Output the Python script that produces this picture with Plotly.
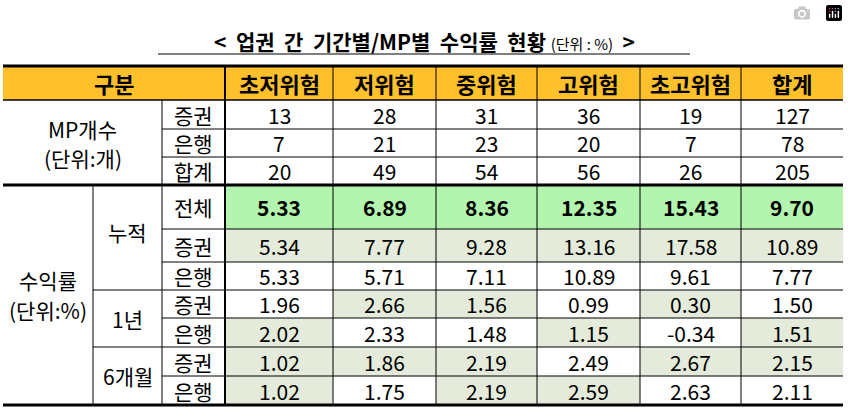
import plotly.graph_objects as go

risk_cats = ["초저위험", "저위험", "중위험", "고위험", "초고위험", "합계"]
mp_labels = ["증권", "은행", "합계"]
mp_sec = [13, 28, 31, 36, 19, 127]
mp_bank = [7, 21, 23, 20, 7, 78]
mp_total = [20, 49, 54, 56, 26, 205]
cum_all = ["5.33", "6.89", "8.36", "12.35", "15.43", "9.70"]
cum_sec = ["5.34", "7.77", "9.28", "13.16", "17.58", "10.89"]
cum_bank = ["5.33", "5.71", "7.11", "10.89", "9.61", "7.77"]
y1_sec = ["1.96", "2.66", "1.56", "0.99", "0.30", "1.50"]
y1_bank = ["2.02", "2.33", "1.48", "1.15", "-0.34", "1.51"]
m6_sec = ["1.02", "1.86", "2.19", "2.49", "2.67", "2.15"]
m6_bank = ["1.02", "1.75", "2.19", "2.59", "2.63", "2.11"]

FONT = "Noto Sans CJK KR"
ORANGE = "#FFC12B"
GREEN = "#B3F5AE"
SHADE = "#E4EBDA"
CELL = 21

colx = [225, 333, 436, 537, 640, 741, 843]
X0, X1, X2 = 3, 93, 162
rows_mp = [100, 129, 157, 185]
rows_r = [185, 229, 262, 290, 318, 347, 376, 405]
HT, HB = 66, 100

shapes, ann = [], []

def rect(x0, y0, x1, y1, color):
    shapes.append(dict(type="rect", x0=x0, x1=x1, y0=y0, y1=y1, fillcolor=color,
                       line=dict(width=0), layer="below"))

def line(x0, y0, x1, y1, w=1):
    shapes.append(dict(type="line", x0=x0, x1=x1, y0=y0, y1=y1, line=dict(color="black", width=w)))

def text(x, y, s, size=CELL, bold=False):
    if bold:
        s = "<b>" + s + "</b>"
    ann.append(dict(x=x, y=y, text=s, showarrow=False, font=dict(family=FONT, size=size, color="black"),
                    xanchor="center", yanchor="middle"))

# header
rect(X0, HT, colx[-1], HB, ORANGE)
text((X0 + colx[0]) / 2, (HT + HB) / 2, "구분", 22, True)
for i, c in enumerate(risk_cats):
    text((colx[i] + colx[i + 1]) / 2, (HT + HB) / 2, c, 22, True)

# MP section
text((X0 + X2) / 2, 129, "MP개수")
text((X0 + X2) / 2, 158, "(단위:개)")
for r, (lab, vals) in enumerate(zip(mp_labels, [mp_sec, mp_bank, mp_total])):
    yc = (rows_mp[r] + rows_mp[r + 1]) / 2
    text((X2 + colx[0]) / 2, yc, lab)
    for i, v in enumerate(vals):
        text((colx[i] + colx[i + 1]) / 2, yc, str(v))
for r in range(1, 3):
    line(X2, rows_mp[r], colx[-1], rows_mp[r])

# returns section
text((X0 + X1) / 2, 280, "수익률")
text((X0 + X1) / 2, 310, "(단위:%)")
groups = [("누적", 0, 3), ("1년", 3, 5), ("6개월", 5, 7)]
for name, a, b in groups:
    text((X1 + X2) / 2, (rows_r[a] + rows_r[b]) / 2 - (6 if name == "누적" else 0), name)

ret_rows = [("전체", cum_all), ("증권", cum_sec), ("은행", cum_bank),
            ("증권", y1_sec), ("은행", y1_bank), ("증권", m6_sec), ("은행", m6_bank)]
rect(colx[0], rows_r[0], colx[-1], rows_r[1], GREEN)
for a in (1, 3, 5):
    s_vals, b_vals = ret_rows[a][1], ret_rows[a + 1][1]
    for i in range(6):
        s, bv = float(s_vals[i]), float(b_vals[i])
        if s >= bv:
            rect(colx[i], rows_r[a], colx[i + 1], rows_r[a + 1], SHADE)
        if bv >= s:
            rect(colx[i], rows_r[a + 1], colx[i + 1], rows_r[a + 2], SHADE)
for r, (lab, vals) in enumerate(ret_rows):
    yc = (rows_r[r] + rows_r[r + 1]) / 2
    text((X2 + colx[0]) / 2, yc, lab)
    for i, v in enumerate(vals):
        text((colx[i] + colx[i + 1]) / 2, yc, v, 21, r == 0)
for r in range(1, 7):
    x_start = X1 if r in (3, 5) else X2
    line(x_start, rows_r[r], colx[-1], rows_r[r])

for x in colx[1:-1]:
    line(x, HT, x, rows_r[-1], 1)
line(colx[0], HT, colx[0], rows_r[-1], 2)
line(X2, HB, X2, rows_r[-1], 1)
line(X1, rows_r[0], X1, rows_r[-1], 1)
line(X0, HT, colx[-1], HT, 3)
line(X0, HB, colx[-1], HB, 1.5)
line(X0, rows_r[0], colx[-1], rows_r[0], 3)
line(X0, rows_r[-1], colx[-1], rows_r[-1], 3)

ann.append(dict(x=424, y=41, showarrow=False, xanchor="center", yanchor="middle",
                text="<b>&lt;  업권  간  기간별/MP별  수익률  현황</b> <span style='font-size:15px'>(단위 : %)</span>  <b>&gt;</b>",
                font=dict(family=FONT, size=21, color="black")))
line(158, 54, 690, 54, 1)

fig = go.Figure()
fig.update_layout(width=848, height=417, margin=dict(l=0, r=0, t=0, b=0),
                  paper_bgcolor="white", plot_bgcolor="white",
                  xaxis=dict(range=[0, 848], visible=False, fixedrange=True),
                  yaxis=dict(range=[417, 0], visible=False, fixedrange=True),
                  shapes=shapes, annotations=ann, showlegend=False)
fig.write_html("out.html")

with open("out.html", encoding="utf-8") as f:
    html = f.read()
html = html.replace("<body>", "<body style=\"margin:0;padding:0;overflow:hidden\">", 1)
with open("out.html", "w", encoding="utf-8") as f:
    f.write(html)
